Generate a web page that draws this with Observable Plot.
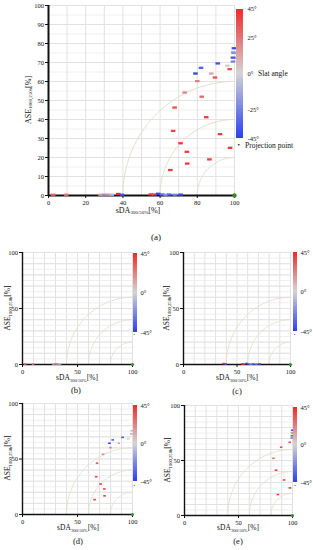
<!DOCTYPE html>
<html>
<head>
<meta charset="utf-8">
<script src="https://cdn.jsdelivr.net/npm/d3@7"></script>
<script src="https://cdn.jsdelivr.net/npm/@observablehq/plot@0.6"></script>
<style>
  html, body { margin: 0; padding: 0; background: #fff; }
  #root { position: relative; width: 313px; height: 550px; overflow: hidden; font-family: 'Liberation Serif', 'DejaVu Serif', serif; color: #111; }
  .abs { position: absolute; }
  .lbl { position: absolute; white-space: nowrap; line-height: 1; }
  .lbl sub { font-size: 0.62em; vertical-align: -0.3em; line-height: 0; }
  svg { overflow: visible; }
</style>
</head>
<body>
<div id="root"></div>
<script>
// ---------- data ----------
// panel (b)
const bSDA   = [2.5, 9.5, 28, 30, 32, 34];
const bASE   = [0.4, 0.4, 0.4, 0.4, 0.4, 0.4];
const bAngle = [30, 25, 15, -20, 20, -10];
// panel (c)
const cSDA   = [37.5, 39.5, 55, 57, 59, 61, 63, 65, 68, 71];
const cASE   = [0.8, 0.4, 0.6, 0.6, 0.9, 0.6, 0.4, 0.5, 0.4, 0.5];
const cAngle = [45, -40, 40, 35, -45, -30, -20, -35, -25, -40];
// panel (d)
const dSDA   = [65.5, 67, 67.8, 71, 73.2, 74.4, 74.6, 79, 80, 82, 87.5, 91, 96.2, 98.9, 99.3];
const dASE   = [13.4, 34, 46.3, 27.5, 54.2, 23, 16.8, 64.2, 60.2, 67.2, 64.2, 69.5, 68.3, 72.6, 75.5];
const dAngle = [40, 38, 35, 40, 20, 40, 40, -42, 22, -35, 12, -40, 2, -12, -8];
// panel (e)
const eSDA   = [82.4, 84.8, 86.5, 89.5, 92.2, 97.6, 97.4, 99.2, 99.4, 99.5, 99.7];
const eASE   = [52, 41.2, 19, 62.1, 32.3, 25.1, 66.5, 70.5, 72.5, 75, 77.5];
const eAngle = [28, 40, 40, 35, 40, 42, 35, -25, -35, -20, -40];

const projection = [{sDA: 100, ASE: 0}];
const arcRadii = [20, 40, 60];
const angleDomain = [-45, 0, 45];
const angleColors = ["#2b3ef2", "#d4d4d4", "#ee2a2a"];
const bigTicksX = [0, 20, 40, 60, 80, 100];
const bigTicksY = [0, 10, 20, 30, 40, 50, 60, 70, 80, 90, 100];
const smallTicks = [0, 50, 100];
const bigBarTicks = [45, 25, 0, -25, -45];
const smallBarTicks = [45, 0, -45];

// ---------- helpers ----------
const rows = (xs, ys, as) => xs.map((x, i) => ({sDA: x, ASE: ys[i], angle: as[i]}));
const dataB = rows(bSDA, bASE, bAngle);
const dataC = rows(cSDA, cASE, cAngle);
const dataD = rows(dSDA, dASE, dAngle);
const dataE = rows(eSDA, eASE, eAngle);
const dataA = [...dataB, ...dataC, ...dataD, ...dataE];

const arcs = arcRadii.flatMap(r => d3.range(0, 90.01, 2).map(t => ({
  r, sDA: 100 - r * Math.cos(t * Math.PI / 180), ASE: r * Math.sin(t * Math.PI / 180)
})));

const bar = (w, h) => ({ draw(ctx) { ctx.rect(-w / 2, -h / 2, w, h); } });
const colorScale = {type: "linear", domain: angleDomain, range: angleColors};
const FONT = "'Liberation Serif', 'DejaVu Serif', serif";
const root = document.getElementById("root");

function place(node, left, top) {
  node.style.position = "absolute";
  node.style.left = left + "px";
  node.style.top = top + "px";
  root.appendChild(node);
}
function label(html, x, y, opts = {}) {
  const d = document.createElement("div");
  d.className = "lbl";
  d.innerHTML = html;
  d.style.left = x + "px";
  d.style.top = y + "px";
  d.style.fontSize = (opts.size || 8) + "px";
  if (opts.weight) d.style.fontWeight = opts.weight;
  const rot = opts.rotate ? ` rotate(${opts.rotate}deg)` : "";
  const tx = opts.anchor === "start" ? "0" : "-50%";
  d.style.transform = `translate(${tx},-50%)${rot}`;
  root.appendChild(d);
}

function panel(cfg) {
  const p = Plot.plot({
    width: cfg.width, height: cfg.height,
    marginLeft: cfg.mL, marginRight: cfg.mR, marginTop: cfg.mT, marginBottom: cfg.mB,
    style: {fontFamily: FONT, fontSize: cfg.tickFont + "px", background: "transparent", color: "#111", overflow: "visible"},
    x: {domain: [0, 100], axis: null},
    y: {domain: [0, 100], axis: null},
    color: colorScale,
    marks: [
      Plot.gridY(d3.range(0, 101, 5), {stroke: "#f0f0f0", strokeOpacity: 1}),
      Plot.gridX(d3.range(0, 101, 10), {stroke: "#e2e2e2", strokeOpacity: 1}),
      Plot.gridY(d3.range(0, 101, 10), {stroke: "#e2e2e2", strokeOpacity: 1}),
      Plot.line(arcs, {x: "sDA", y: "ASE", z: "r", stroke: "#e4dfd0", strokeWidth: cfg.arcW}),
      Plot.axisY(cfg.yTicks, {tickSize: 3, tickPadding: 1.5, label: null, fontSize: cfg.tickFont}),
      Plot.axisX(cfg.xTicks, {tickSize: 3, tickPadding: 1.5, label: null, fontSize: cfg.tickFont}),
      Plot.ruleX([0], {stroke: "#111", strokeWidth: cfg.axisW}),
      Plot.ruleY([0], {stroke: "#111", strokeWidth: cfg.axisW}),
      Plot.dot(cfg.data, {x: "sDA", y: "ASE", fill: "angle", symbol: bar(cfg.markW, cfg.markH), r: 1}),
      Plot.dot(projection, {x: "sDA", y: "ASE", fill: "#3f8a2e", r: cfg.projR})
    ]
  });
  place(p, cfg.left, cfg.top);
}

function colorbar(cfg) {
  const steps = d3.range(-45, 45, 1);
  const p = Plot.plot({
    width: cfg.barW + 30, height: cfg.height,
    marginLeft: 0, marginRight: 30, marginTop: cfg.mT, marginBottom: cfg.mB,
    style: {fontFamily: FONT, fontSize: cfg.font + "px", background: "transparent", color: "#111", overflow: "visible"},
    x: {domain: [0, 1], axis: null},
    y: {domain: [-45, 45], axis: null},
    color: colorScale,
    marks: [
      Plot.rect(steps, {x1: () => 0, x2: () => 1, y1: d => d, y2: d => d + 1, fill: d => d + 0.5, shapeRendering: "crispEdges"}),
      Plot.axisY(cfg.ticks, {anchor: "right", tickSize: 0, tickPadding: cfg.pad, tickFormat: d => (d < 0 ? "-" + (-d) : d) + "°", fontSize: cfg.font})
    ]
  });
  place(p, cfg.left, cfg.top);
}

const aseLbl = "ASE<sub>1000,250h</sub>[%]";
const sdaLbl = "sDA<sub>300/50%</sub>[%]";

// ---------- panel (a) ----------
panel({left: 0, top: 0, width: 240, height: 225, mL: 48, mR: 6, mT: 5, mB: 30,
  data: dataA, xTicks: bigTicksX, yTicks: bigTicksY, tickFont: 6.5, axisW: 2,
  markW: 4.6, markH: 2.3, arcW: 1, projR: 2.2});
colorbar({left: 236, top: 4, height: 139, mT: 4.7, mB: 5, barW: 7, ticks: bigBarTicks, font: 6.5, pad: 4});
label(aseLbl, 29, 100, {size: 8, rotate: -90});
label(sdaLbl, 138, 211, {size: 8});
label("Slat angle", 258, 74, {size: 7.5, anchor: "start"});
label("•", 237.5, 144.5, {size: 7, anchor: "start"});
label("Projection point", 245, 145.5, {size: 7.5, anchor: "start"});
label("(a)", 156, 237, {size: 9});

// ---------- panel (b) ----------
panel({left: 0, top: 247, width: 134, height: 130, mL: 22, mR: 2, mT: 5, mB: 13,
  data: dataB, xTicks: smallTicks, yTicks: smallTicks, tickFont: 6.5, axisW: 1.4,
  markW: 2.6, markH: 1.6, arcW: 0.9, projR: 1.6});
colorbar({left: 133, top: 248, height: 89, mT: 5, mB: 5, barW: 4, ticks: smallBarTicks, font: 6.5, pad: 3});
label("·", 134.3, 334, {size: 9});
label(aseLbl, 8, 308, {size: 7.5, rotate: -90});
label(sdaLbl, 77, 378, {size: 7.5});
label("(b)", 76, 390, {size: 8.5});

// ---------- panel (c) ----------
panel({left: 162, top: 247, width: 130, height: 130, mL: 21, mR: 2, mT: 5, mB: 13,
  data: dataC, xTicks: smallTicks, yTicks: smallTicks, tickFont: 6.5, axisW: 1.4,
  markW: 2.6, markH: 1.6, arcW: 0.9, projR: 1.6});
colorbar({left: 293, top: 247, height: 89, mT: 5, mB: 5, barW: 4, ticks: smallBarTicks, font: 6.5, pad: 3});
label("·", 294.5, 334, {size: 9});
label(aseLbl, 167, 308, {size: 7.5, rotate: -90});
label(sdaLbl, 237, 378, {size: 7.5});
label("(c)", 237, 391, {size: 8.5});

// ---------- panel (d) ----------
panel({left: 0, top: 398, width: 134, height: 130, mL: 22, mR: 2, mT: 5, mB: 14,
  data: dataD, xTicks: smallTicks, yTicks: smallTicks, tickFont: 6.5, axisW: 1.4,
  markW: 2.6, markH: 1.6, arcW: 0.9, projR: 1.6});
colorbar({left: 133, top: 400, height: 86, mT: 5, mB: 5, barW: 4, ticks: smallBarTicks, font: 6.5, pad: 3});
label("·", 134.3, 484.5, {size: 9});
label(aseLbl, 8, 458, {size: 7.5, rotate: -90});
label(sdaLbl, 78, 528, {size: 7.5});
label("(d)", 78, 541, {size: 8.5});

// ---------- panel (e) ----------
panel({left: 162, top: 400, width: 132, height: 130, mL: 22, mR: 2, mT: 5, mB: 15,
  data: dataE, xTicks: smallTicks, yTicks: smallTicks, tickFont: 6.5, axisW: 1.4,
  markW: 2.6, markH: 1.6, arcW: 0.9, projR: 1.6});
colorbar({left: 293, top: 402, height: 85, mT: 5, mB: 5, barW: 4, ticks: smallBarTicks, font: 6.5, pad: 3});
label("·", 295, 485, {size: 9});
label(aseLbl, 168, 460, {size: 7.5, rotate: -90});
label(sdaLbl, 238, 528, {size: 7.5});
label("(e)", 238, 541, {size: 8.5});
</script>
</body>
</html>
